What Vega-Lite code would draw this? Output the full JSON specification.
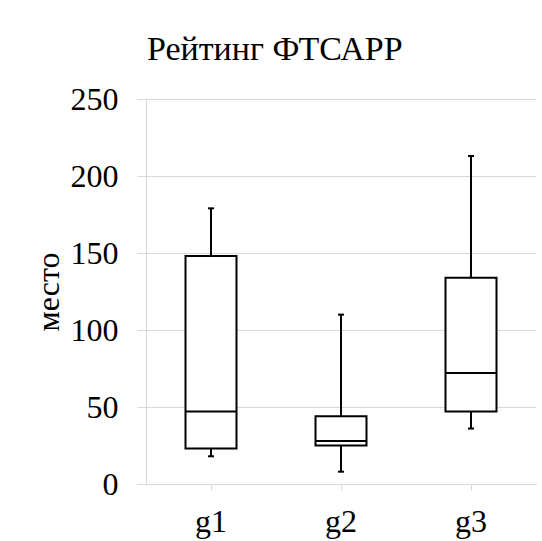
{
  "$schema": "https://vega.github.io/schema/vega-lite/v6.json",
  "width": 390,
  "height": 385,
  "autosize": "none",
  "padding": {"left": 146, "top": 99, "right": 6, "bottom": 57},
  "background": "white",
  "title": {
    "text": "Рейтинг ФТСАРР",
    "font": "Liberation Serif",
    "fontSize": 34,
    "fontWeight": "normal",
    "color": "black",
    "anchor": "start",
    "frame": "group",
    "dx": 1,
    "dy": 14,
    "baseline": "alphabetic",
    "offset": 3
  },
  "data": {
    "values": [
      {"group": "g1", "min": 18, "q1": 23, "median": 47, "q3": 148, "max": 179},
      {"group": "g2", "min": 8, "q1": 25, "median": 28, "q3": 44, "max": 110},
      {"group": "g3", "min": 36, "q1": 47, "median": 72, "q3": 134, "max": 213}
    ]
  },
  "encoding": {
    "x": {
      "field": "group",
      "type": "nominal",
      "scale": {"paddingInner": 0, "paddingOuter": 0},
      "axis": {"title": null, "labelAngle": 0}
    }
  },
  "layer": [
    {
      "mark": {"type": "rule", "color": "black", "strokeWidth": 2, "opacity": 1},
      "encoding": {
        "y": {
          "field": "min",
          "type": "quantitative",
          "title": "место",
          "scale": {"domain": [0, 250], "nice": false},
          "axis": {"values": [0, 50, 100, 150, 200, 250]}
        },
        "y2": {"field": "max"}
      }
    },
    {
      "mark": {"type": "bar", "fill": "white", "stroke": "black", "strokeWidth": 2, "size": 51, "opacity": 1},
      "encoding": {
        "y": {"field": "q1", "type": "quantitative", "title": "место"},
        "y2": {"field": "q3"}
      }
    },
    {
      "mark": {"type": "tick", "color": "black", "thickness": 2, "size": 51, "opacity": 1},
      "encoding": {
        "y": {"field": "median", "type": "quantitative", "title": "место"}
      }
    },
    {
      "mark": {"type": "tick", "color": "black", "thickness": 2, "size": 6, "opacity": 1},
      "encoding": {
        "y": {"field": "min", "type": "quantitative", "title": "место"}
      }
    },
    {
      "mark": {"type": "tick", "color": "black", "thickness": 2, "size": 6, "opacity": 1},
      "encoding": {
        "y": {"field": "max", "type": "quantitative", "title": "место"}
      }
    }
  ],
  "config": {
    "font": "Liberation Serif",
    "view": {"stroke": null},
    "axis": {
      "labelFont": "Liberation Serif",
      "labelFontSize": 32,
      "labelColor": "black",
      "titleFont": "Liberation Serif",
      "titleFontSize": 32,
      "titleFontWeight": "normal",
      "titleColor": "black",
      "domainColor": "#d9d9d9",
      "tickColor": "#d9d9d9",
      "gridColor": "#d9d9d9"
    },
    "axisY": {
      "grid": true,
      "tickSize": 9,
      "labelPadding": 19,
      "titlePadding": 5
    },
    "axisX": {
      "grid": false,
      "tickSize": 6,
      "labelPadding": 16
    }
  }
}
